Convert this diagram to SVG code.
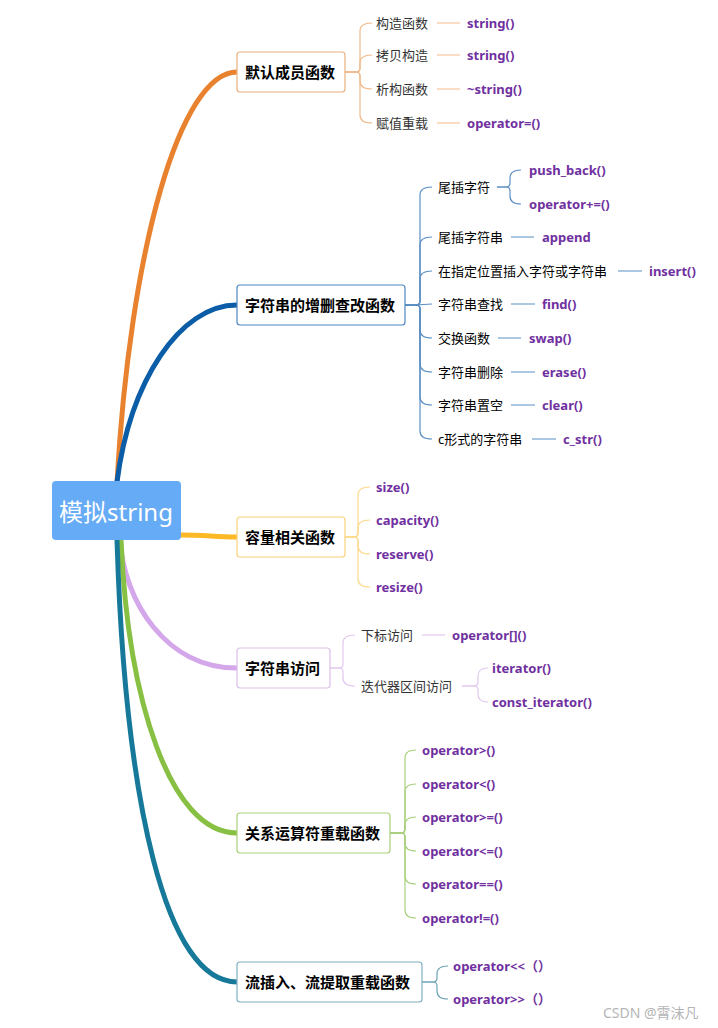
<svg xmlns="http://www.w3.org/2000/svg" width="718" height="1028" viewBox="0 0 718 1028">
<style>
text{font-family:"Noto Sans","Noto Sans CJK SC",sans-serif;dominant-baseline:central}
.main{fill:none;stroke-width:5;stroke-linecap:round}
.thin{fill:none;stroke-width:1.2}
.node{fill:#fff;stroke-width:1.2}
.nt{font-size:15px;font-weight:bold;fill:#000}
.lf{font-size:13px;fill:#333}
.lb{font-size:13px;fill:#000}
.fn{font-size:13px;font-weight:bold;fill:#7030a0}
.o{stroke:#f2b98a}.b{stroke:#5b8fc3}.y{stroke:#fcd98a}.p{stroke:#e2c7ee}.g{stroke:#a9d07c}.t{stroke:#6fa3b5}
</style>
<rect width="718" height="1028" fill="#fff"/>
<g id="connectors">
<path class="main" stroke="#e8822f" d="M117 482C130 250 180 72 237 72"/>
<path class="main" stroke="#0a5da6" d="M117 482C130 381 180 305 237 305"/>
<path class="main" stroke="#fcb825" d="M181 535C205 535 215 537 237 537"/>
<path class="main" stroke="#d4a6ea" d="M120 540C124 600 165 668 237 668"/>
<path class="main" stroke="#88c043" d="M121 540C128 700 170 833 237 833"/>
<path class="main" stroke="#17799a" d="M117 540C125 800 165 982 237 982"/>
<g class="thin o">
<path d="M345 72H356Q360 72 360 68V31Q360 23 372 23"/>
<path d="M345 72H356Q360 72 360 68V63Q360 55 372 55"/>
<path d="M345 72H356Q360 72 360 76V81Q360 89 372 89"/>
<path d="M345 72H356Q360 72 360 76V115Q360 123 372 123"/>
<path d="M437 23H460M437 55H460M437 89H460M437 123H460"/>
</g>
<g class="thin b">
<path d="M405 305H416Q420 305 420 301V195Q420 187 432 187"/>
<path d="M405 305H416Q420 305 420 301V245Q420 237 432 237"/>
<path d="M405 305H416Q420 305 420 301V279Q420 271 432 271"/>
<path d="M405 305Q420 305 432 304"/>
<path d="M405 305H416Q420 305 420 309V330Q420 338 432 338"/>
<path d="M405 305H416Q420 305 420 309V364Q420 372 432 372"/>
<path d="M405 305H416Q420 305 420 309V397Q420 405 432 405"/>
<path d="M405 305H416Q420 305 420 309V431Q420 439 432 439"/>
<path d="M497 187H506Q510 187 510 183V178Q510 170 521 170"/>
<path d="M497 187H506Q510 187 510 191V196Q510 204 521 204"/>
<path d="M511 237H534M618 271H642M511 304H535M498 338H521M511 372H535M511 405H535M532 439H556"/>
</g>
<g class="thin y">
<path d="M345 537H354Q358 537 358 533V495Q358 487 370 487"/>
<path d="M345 537H354Q358 537 358 533V528Q358 520 370 520"/>
<path d="M345 537H354Q358 537 358 541V546Q358 554 370 554"/>
<path d="M345 537H354Q358 537 358 541V579Q358 587 370 587"/>
</g>
<g class="thin p">
<path d="M330 668H339Q343 668 343 664V643Q343 635 355 635"/>
<path d="M330 668H339Q343 668 343 672V678Q343 686 355 686"/>
<path d="M422 635H445"/>
<path d="M462 686H474Q478 686 478 682V676Q478 668 488 668"/>
<path d="M462 686H474Q478 686 478 690V694Q478 702 488 702"/>
</g>
<g class="thin g">
<path d="M390 833H401Q405 833 405 829V758Q405 750 416 750"/>
<path d="M390 833H401Q405 833 405 829V792Q405 784 416 784"/>
<path d="M390 833H401Q405 833 405 829V825Q405 817 416 817"/>
<path d="M390 833H401Q405 833 405 837V843Q405 851 416 851"/>
<path d="M390 833H401Q405 833 405 837V876Q405 884 416 884"/>
<path d="M390 833H401Q405 833 405 837V910Q405 918 416 918"/>
</g>
<g class="thin t">
<path d="M422 982H433Q437 982 437 978V974Q437 966 448 966"/>
<path d="M422 982H433Q437 982 437 986V991Q437 999 448 999"/>
</g>
</g>
<g id="root">
<rect x="52" y="481" width="129" height="59" rx="4" fill="#66abf5"/>
<text x="116" y="511" font-size="24" fill="#fff" text-anchor="middle">模拟string</text>
</g>
<g id="n1">
<rect class="node" x="237" y="52" width="108" height="40" rx="3" stroke="#eab07e"/>
<text class="nt" x="245" y="72">默认成员函数</text>
<text class="lf" x="376" y="23">构造函数</text>
<text class="lf" x="376" y="55">拷贝构造</text>
<text class="lf" x="376" y="89">析构函数</text>
<text class="lf" x="376" y="123">赋值重载</text>
<text class="fn" x="467" y="23">string()</text>
<text class="fn" x="467" y="55">string()</text>
<text class="fn" x="467" y="89">~string()</text>
<text class="fn" x="467" y="123">operator=()</text>
</g>
<g id="n2">
<rect class="node" x="237" y="285" width="168" height="40" rx="3" stroke="#4f86bd"/>
<text class="nt" x="245" y="305">字符串的增删查改函数</text>
<text class="lb" x="438" y="187">尾插字符</text>
<text class="lb" x="438" y="237">尾插字符串</text>
<text class="lb" x="438" y="271">在指定位置插入字符或字符串</text>
<text class="lb" x="438" y="304">字符串查找</text>
<text class="lb" x="438" y="338">交换函数</text>
<text class="lb" x="438" y="372">字符串删除</text>
<text class="lb" x="438" y="405">字符串置空</text>
<text class="lb" x="438" y="439">c形式的字符串</text>
<text class="fn" x="529" y="170">push_back()</text>
<text class="fn" x="529" y="204">operator+=()</text>
<text class="fn" x="542" y="237">append</text>
<text class="fn" x="649" y="271">insert()</text>
<text class="fn" x="542" y="304">find()</text>
<text class="fn" x="529" y="338">swap()</text>
<text class="fn" x="542" y="372">erase()</text>
<text class="fn" x="542" y="405">clear()</text>
<text class="fn" x="563" y="439">c_str()</text>
</g>
<g id="n3">
<rect class="node" x="237" y="517" width="108" height="40" rx="3" stroke="#fbd27a"/>
<text class="nt" x="245" y="537">容量相关函数</text>
<text class="fn" x="376" y="487">size()</text>
<text class="fn" x="376" y="520">capacity()</text>
<text class="fn" x="376" y="554">reserve()</text>
<text class="fn" x="376" y="587">resize()</text>
</g>
<g id="n4">
<rect class="node" x="237" y="648" width="93" height="40" rx="3" stroke="#ddbfeb"/>
<text class="nt" x="245" y="668">字符串访问</text>
<text class="lf" x="361" y="635">下标访问</text>
<text class="lf" x="361" y="686">迭代器区间访问</text>
<text class="fn" x="452" y="635">operator[]()</text>
<text class="fn" x="492" y="668">iterator()</text>
<text class="fn" x="492" y="702">const_iterator()</text>
</g>
<g id="n5">
<rect class="node" x="237" y="813" width="153" height="40" rx="3" stroke="#a9d07c"/>
<text class="nt" x="245" y="833">关系运算符重载函数</text>
<text class="fn" x="422" y="750">operator&gt;()</text>
<text class="fn" x="422" y="784">operator&lt;()</text>
<text class="fn" x="422" y="817">operator&gt;=()</text>
<text class="fn" x="422" y="851">operator&lt;=()</text>
<text class="fn" x="422" y="884">operator==()</text>
<text class="fn" x="422" y="918">operator!=()</text>
</g>
<g id="n6">
<rect class="node" x="237" y="962" width="185" height="40" rx="3" stroke="#7fb0c2"/>
<text class="nt" x="245" y="982">流插入、流提取重载函数</text>
<text class="fn" x="453" y="966">operator&lt;&lt;（）</text>
<text class="fn" x="453" y="999">operator&gt;&gt;（）</text>
</g>
<text x="603" y="1012" font-size="14" fill="#b5b5b5">CSDN @霄沫凡</text>
</svg>
